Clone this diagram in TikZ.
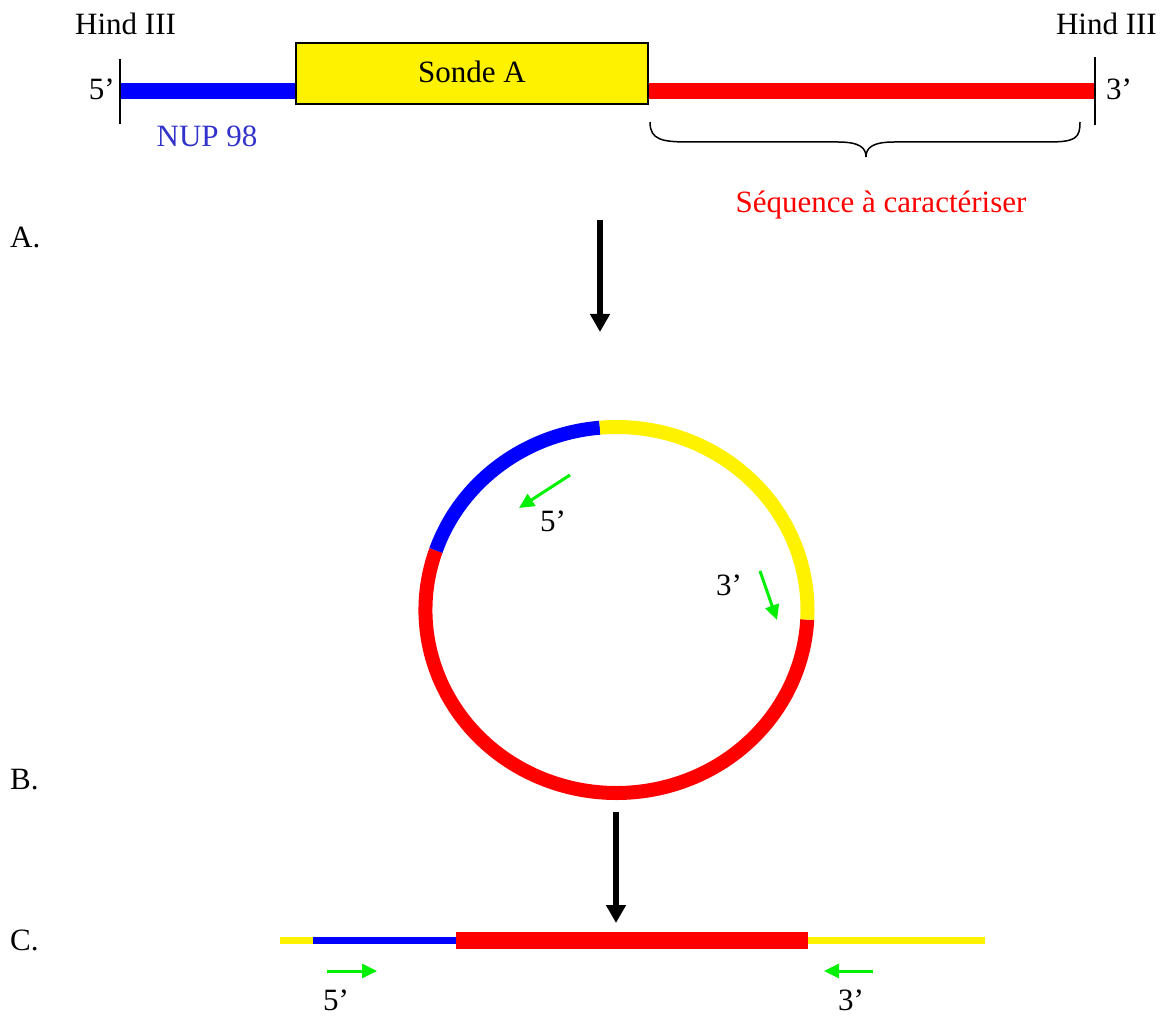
\documentclass[tikz,border=0pt]{standalone}
\usepackage{fontspec}
\setmainfont{Liberation Serif}
\usetikzlibrary{arrows.meta}
\definecolor{nupblue}{RGB}{51,51,204}
\definecolor{pgreen}{RGB}{0,240,0}
\tikzset{
  lbl/.style={inner sep=0pt, font=\fontsize{31}{37}\selectfont},
  thickbar/.style={line width=16pt, line cap=butt},
  thinbar/.style={line width=7pt, line cap=butt},
  tick/.style={line width=1.5pt},
  bigarrow/.style={line width=6pt, -{Triangle[length=18pt,width=19pt]}},
  primer/.style={pgreen, line width=3pt, -{Triangle[length=15pt,width=14pt]}},
  ring/.style={line width=14pt, line cap=butt},
}
\begin{document}
\begin{tikzpicture}[x=1pt,y=1pt]
\useasboundingbox (0,0) rectangle (1168,-1016);

% ---------- A: linear fragment ----------
\coordinate (t5top) at (120,-59);
\coordinate (t5bot) at (120,-124);
\coordinate (t5) at (120,-91);
\coordinate (t3top) at (1095,-57);
\coordinate (t3bot) at (1095,-125);
\coordinate (t3) at (1095,-91);
\node[draw=black, line width=1.5pt, fill=yellow, minimum width=352pt, minimum height=61pt, inner sep=0pt] (box) at (472,-73.5) {};
\node[lbl, anchor=base] (sonde) at (472,-83) {Sonde A};
\draw[thickbar, blue] (t5) -- (t5 -| box.west);
\draw[thickbar, red] (t5 -| box.east) -- (t3);
\draw[tick] (t5top) -- (t5bot);
\draw[tick] (t3top) -- (t3bot);

\node[lbl, anchor=base west] (hindL) at (75,-35) {Hind III};
\node[lbl, anchor=base east] (hindR) at (1157,-35) {Hind III};
\node[lbl, anchor=base east] (p5) at (115,-100) {5’};
\node[lbl, anchor=base west] (p3) at (1106,-100) {3’};
\node[lbl, anchor=base, text=nupblue] (nup) at (207,-147) {NUP 98};
\node[lbl, anchor=base, text=red] (seq) at (881,-213) {Séquence à caractériser};

% brace
\draw[line width=1.5pt] (650,-122) .. controls (650,-140) and (662,-142) .. (690,-142)
  -- (838,-142) .. controls (860,-142) and (866,-148) .. (866,-157)
  .. controls (866,-148) and (872,-142) .. (894,-142)
  -- (1048,-142) .. controls (1076,-142) and (1080,-138) .. (1080,-122);

\node[lbl, anchor=base west] (labA) at (10,-248) {A.};
\node[lbl, anchor=base west] (labB) at (10,-789) {B.};
\node[lbl, anchor=base west] (labC) at (10,-950) {C.};

% arrow 1
\coordinate (ar1s) at (600,-220);
\coordinate (ar1e) at (600,-332);
\draw[bigarrow] (ar1s) -- (ar1e);

% ---------- B: circle ----------
\coordinate (cc) at (616.5,-610);
\draw[ring, red] ([shift={(161:191 and 183)}]cc) arc[start angle=161, end angle=357, x radius=191, y radius=183];
\draw[ring, blue] ([shift={(95:191 and 183)}]cc) arc[start angle=95, end angle=161, x radius=191, y radius=183];
\draw[ring, yellow] ([shift={(-3:191 and 183)}]cc) arc[start angle=-3, end angle=95, x radius=191, y radius=183];

\coordinate (g1s) at (570,-475);
\coordinate (g1e) at (519,-508);
\draw[primer] (g1s) -- (g1e);
\node[lbl, anchor=base west] (c5) at (540,-531) {5’};
\coordinate (g2s) at (760,-571);
\coordinate (g2e) at (777,-620);
\draw[primer] (g2s) -- (g2e);
\node[lbl, anchor=base west] (c3) at (716,-595) {3’};

% arrow 2
\coordinate (ar2s) at (616,-812);
\coordinate (ar2e) at (616,-923);
\draw[bigarrow] (ar2s) -- (ar2e);

% ---------- C: linear product ----------
\coordinate (l0) at (280,-940);
\coordinate (l1) at (313,-940);
\coordinate (l2) at (456,-940);
\coordinate (l3) at (808,-940);
\coordinate (l4) at (985,-940);
\draw[thinbar, yellow] (l0) -- (l1);
\draw[thinbar, blue] (l1) -- (l2);
\draw[thinbar, yellow] (l3) -- (l4);
\draw[line width=17pt, line cap=butt, red] (l2) -- (l3);

\coordinate (g3s) at (327,-971);
\coordinate (g3e) at (377,-971);
\draw[primer] (g3s) -- (g3e);
\coordinate (g4s) at (873,-971);
\coordinate (g4e) at (824,-971);
\draw[primer] (g4s) -- (g4e);
\node[lbl, anchor=base west] (b5) at (323,-1010) {5’};
\node[lbl, anchor=base west] (b3) at (838,-1010) {3’};
\end{tikzpicture}
\end{document}
